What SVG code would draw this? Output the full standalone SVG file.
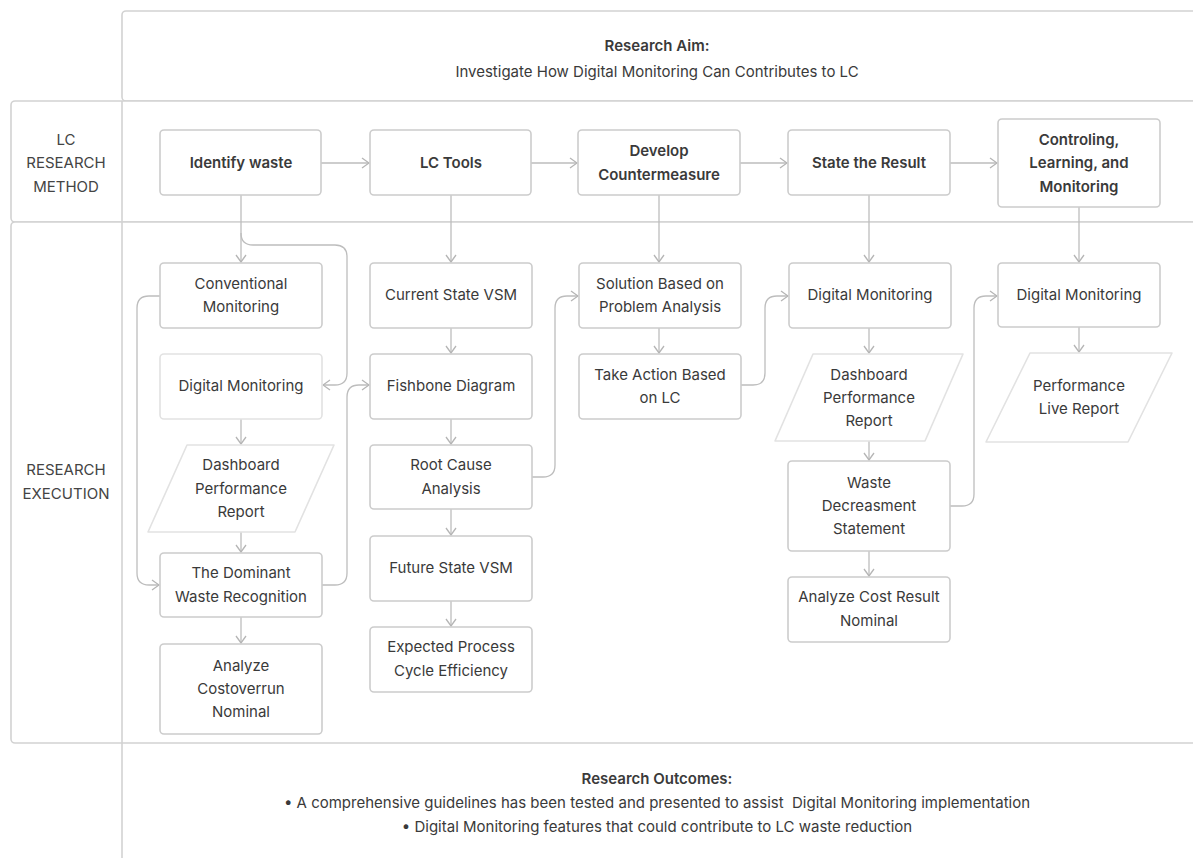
<svg xmlns="http://www.w3.org/2000/svg" width="1193" height="858" viewBox="0 0 1193 858">
<defs>
<style>
.frame{fill:#ffffff;stroke:#d2d2d2;stroke-width:1.6}
.fline{fill:none;stroke:#d2d2d2;stroke-width:1.6}
.box{fill:#ffffff;stroke:#cccccc;stroke-width:1.6}
.lite{fill:#ffffff;stroke:#e2e2e2;stroke-width:1.6}
.t{font-family:"Inter","Noto Sans","Liberation Sans",sans-serif;font-size:15px;fill:#3a3a3a;text-anchor:middle}
.b{font-weight:600}
.lab{font-family:"Inter","Noto Sans","Liberation Sans",sans-serif;font-size:15px;fill:#444444;text-anchor:middle}
.c{fill:none;stroke:#bdbdbd;stroke-width:1.3;marker-end:url(#arr)}
</style>
<marker id="arr" viewBox="0 0 9 12" refX="8" refY="6" markerWidth="9" markerHeight="12" markerUnits="userSpaceOnUse" orient="auto">
<path d="M1,1 L8,6 L1,11" fill="none" stroke="#b5b5b5" stroke-width="1.3"/>
</marker>
</defs>
<rect width="1193" height="858" fill="#ffffff"/>

<g id="frames">
<rect class="frame" x="122" y="11" width="1100" height="90" rx="4"/>
<rect class="frame" x="11" y="101" width="1210" height="121" rx="4"/>
<rect class="frame" x="11" y="222" width="1210" height="521" rx="4"/>
<line class="fline" x1="122" y1="101" x2="122" y2="858"/>
</g>

<g id="aim">
<text class="t b" x="657" y="51">Research Aim:</text>
<text class="t" x="657" y="77">Investigate How Digital Monitoring Can Contributes to LC</text>
</g>

<g id="lane-method">
<text class="lab" x="66" y="145">LC</text>
<text class="lab" x="66" y="168">RESEARCH</text>
<text class="lab" x="66" y="192">METHOD</text>
</g>
<g id="lane-execution">
<text class="lab" x="66" y="475">RESEARCH</text>
<text class="lab" x="66" y="499">EXECUTION</text>
</g>

<g id="outcomes">
<text class="t b" x="657" y="784">Research Outcomes:</text>
<text class="t" x="657" y="808" xml:space="preserve">• A comprehensive guidelines has been tested and presented to assist  Digital Monitoring implementation</text>
<text class="t" x="657" y="832">• Digital Monitoring features that could contribute to LC waste reduction</text>
</g>

<g id="connectors">
<path class="c" d="M321,163 H369"/>
<path class="c" d="M531,163 H577"/>
<path class="c" d="M740,163 H787"/>
<path class="c" d="M950,163 H997"/>
<path class="c" d="M241,195 V262"/>
<path class="c" d="M451,195 V262"/>
<path class="c" d="M659,195 V262"/>
<path class="c" d="M869,195 V262"/>
<path class="c" d="M1079,207 V262"/>
<path class="c" d="M241,233 Q241,245 253,245 H335 Q347,245 347,257 V373 Q347,385 335,385 H323"/>
<path class="c" d="M160,296 H149 Q137,296 137,308 V573 Q137,585 149,585 H159"/>
<path class="c" d="M241,419 V444"/>
<path class="c" d="M241,532 V552"/>
<path class="c" d="M241,617 V643"/>
<path class="c" d="M322,585 H335 Q347,585 347,573 V397 Q347,385 359,385 H369"/>
<path class="c" d="M451,328 V353"/>
<path class="c" d="M451,419 V444"/>
<path class="c" d="M451,509 V535"/>
<path class="c" d="M451,601 V626"/>
<path class="c" d="M532,477 H543 Q555,477 555,465 V308 Q555,296 567,296 H578"/>
<path class="c" d="M659,328 V353"/>
<path class="c" d="M741,385 H753 Q765,385 765,373 V308 Q765,296 777,296 H788"/>
<path class="c" d="M869,328 V353"/>
<path class="c" d="M869,441 V460"/>
<path class="c" d="M869,551 V576"/>
<path class="c" d="M950,506 H962 Q974,506 974,494 V308 Q974,296 986,296 H997"/>
<path class="c" d="M1079,327 V352"/>
</g>

<g id="identify-waste">
<rect class="box" x="160" y="130" width="161" height="65" rx="4"/>
<text class="t b" x="241" y="168">Identify waste</text>
</g>
<g id="lc-tools">
<rect class="box" x="370" y="130" width="161" height="65" rx="4"/>
<text class="t b" x="451" y="168">LC Tools</text>
</g>
<g id="develop-countermeasure">
<rect class="box" x="578" y="130" width="162" height="65" rx="4"/>
<text class="t b" x="659" y="156">Develop</text>
<text class="t b" x="659" y="180">Countermeasure</text>
</g>
<g id="state-result">
<rect class="box" x="788" y="130" width="162" height="65" rx="4"/>
<text class="t b" x="869" y="168">State the Result</text>
</g>
<g id="controling">
<rect class="box" x="998" y="119" width="162" height="88" rx="4"/>
<text class="t b" x="1079" y="145">Controling,</text>
<text class="t b" x="1079" y="168">Learning, and</text>
<text class="t b" x="1079" y="192">Monitoring</text>
</g>

<g id="conventional-monitoring">
<rect class="box" x="160" y="263" width="162" height="65" rx="4"/>
<text class="t" x="241" y="289">Conventional</text>
<text class="t" x="241" y="312">Monitoring</text>
</g>
<g id="digital-monitoring-1">
<rect class="lite" x="160" y="354" width="162" height="65" rx="4"/>
<text class="t" x="241" y="391">Digital Monitoring</text>
</g>
<g id="dashboard-1">
<path class="lite" d="M187,445 H334 L295,532 H148 Z" stroke-linejoin="round"/>
<text class="t" x="241" y="470">Dashboard</text>
<text class="t" x="241" y="494">Performance</text>
<text class="t" x="241" y="517">Report</text>
</g>
<g id="dominant-waste">
<rect class="box" x="160" y="553" width="162" height="64" rx="4"/>
<text class="t" x="241" y="578">The Dominant</text>
<text class="t" x="241" y="602">Waste Recognition</text>
</g>
<g id="analyze-costoverrun">
<rect class="box" x="160" y="644" width="162" height="90" rx="4"/>
<text class="t" x="241" y="671">Analyze</text>
<text class="t" x="241" y="694">Costoverrun</text>
<text class="t" x="241" y="717">Nominal</text>
</g>

<g id="current-vsm">
<rect class="box" x="370" y="263" width="162" height="65" rx="4"/>
<text class="t" x="451" y="300">Current State VSM</text>
</g>
<g id="fishbone">
<rect class="box" x="370" y="354" width="162" height="65" rx="4"/>
<text class="t" x="451" y="391">Fishbone Diagram</text>
</g>
<g id="root-cause">
<rect class="box" x="370" y="445" width="162" height="64" rx="4"/>
<text class="t" x="451" y="470">Root Cause</text>
<text class="t" x="451" y="494">Analysis</text>
</g>
<g id="future-vsm">
<rect class="box" x="370" y="536" width="162" height="65" rx="4"/>
<text class="t" x="451" y="573">Future State VSM</text>
</g>
<g id="expected-pce">
<rect class="box" x="370" y="627" width="162" height="65" rx="4"/>
<text class="t" x="451" y="652">Expected Process</text>
<text class="t" x="451" y="676">Cycle Efficiency</text>
</g>

<g id="solution">
<rect class="box" x="579" y="263" width="162" height="65" rx="4"/>
<text class="t" x="660" y="289">Solution Based on</text>
<text class="t" x="660" y="312">Problem Analysis</text>
</g>
<g id="take-action">
<rect class="box" x="579" y="354" width="162" height="65" rx="4"/>
<text class="t" x="660" y="380">Take Action Based</text>
<text class="t" x="660" y="403">on LC</text>
</g>

<g id="digital-monitoring-2">
<rect class="box" x="789" y="263" width="162" height="65" rx="4"/>
<text class="t" x="870" y="300">Digital Monitoring</text>
</g>
<g id="dashboard-2">
<path class="lite" d="M813,354 H963 L925,441 H775 Z" stroke-linejoin="round"/>
<text class="t" x="869" y="380">Dashboard</text>
<text class="t" x="869" y="403">Performance</text>
<text class="t" x="869" y="426">Report</text>
</g>
<g id="waste-decreasment">
<rect class="box" x="788" y="461" width="162" height="90" rx="4"/>
<text class="t" x="869" y="488">Waste</text>
<text class="t" x="869" y="511">Decreasment</text>
<text class="t" x="869" y="534">Statement</text>
</g>
<g id="analyze-cost-result">
<rect class="box" x="788" y="577" width="162" height="65" rx="4"/>
<text class="t" x="869" y="602">Analyze Cost Result</text>
<text class="t" x="869" y="626">Nominal</text>
</g>

<g id="digital-monitoring-3">
<rect class="box" x="998" y="263" width="162" height="64" rx="4"/>
<text class="t" x="1079" y="300">Digital Monitoring</text>
</g>
<g id="performance-live">
<path class="lite" d="M1030,353 H1172 L1128,442 H986 Z" stroke-linejoin="round"/>
<text class="t" x="1079" y="391">Performance</text>
<text class="t" x="1079" y="414">Live Report</text>
</g>
</svg>
